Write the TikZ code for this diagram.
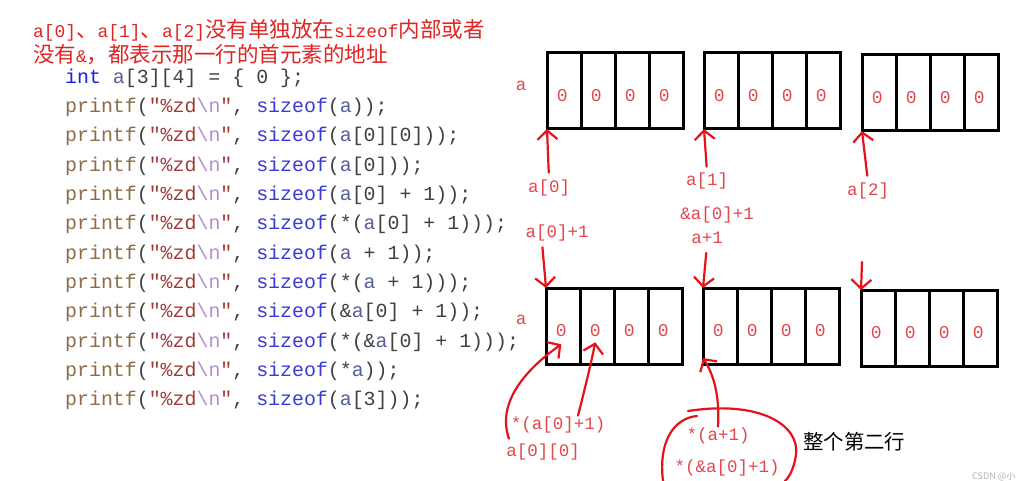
\documentclass[tikz,border=0pt]{standalone}
\usepackage{fontspec}
\setmonofont{Liberation Mono}
\newfontfamily\cjk{Noto Sans CJK SC}
\usetikzlibrary{arrows.meta}

\definecolor{titlered}{HTML}{E02424}
\definecolor{kwblue}{HTML}{1E1EE6}
\definecolor{szblue}{HTML}{3A3AD8}
\definecolor{fnbrown}{HTML}{8C6D46}
\definecolor{strred}{HTML}{A33A3A}
\definecolor{escviolet}{HTML}{B48CD8}
\definecolor{argcol}{HTML}{404040}
\definecolor{varcol}{HTML}{56609A}
\definecolor{lblred}{HTML}{E3474B}
\definecolor{penred}{HTML}{E5121A}

\newcommand\zh[1]{{\cjk\fontsize{21.5}{24}\selectfont #1}}
\newcommand\A{\textcolor{varcol}{a}}
\newcommand\pf[1]{\textcolor{fnbrown}{printf}(\textcolor{strred}{"\%zd}\textcolor{escviolet}{\textbackslash n}\textcolor{strred}{"}, \textcolor{szblue}{sizeof}#1}

\tikzset{
  code/.style={anchor=west, inner sep=0pt, text=argcol, font=\ttfamily\fontsize{19.9}{24}\selectfont},
  title/.style={anchor=west, inner sep=0pt, text=titlered, font=\ttfamily\fontsize{17.9}{22}\selectfont},
  rowbox/.style={draw, line width=3pt, minimum width=136pt, minimum height=76pt, inner sep=0pt, outer sep=0pt},
  cellline/.style={line width=3pt},
  zero/.style={inner sep=0pt, text=lblred, font=\ttfamily\fontsize{18}{20}\selectfont},
  lbl/.style={inner sep=1pt, text=lblred, font=\ttfamily\fontsize{17.5}{20}\selectfont},
  hand/.style={draw=penred, line width=2.2pt, line cap=round, -{Straight Barb[length=9pt,width=20pt,line width=2.2pt]}},
  ring/.style={draw=penred, line width=2.2pt, line cap=round}
}

\begin{document}
\begin{tikzpicture}[x=1pt, y=-1pt]
  \useasboundingbox (0,0) rectangle (1022,481);
  \clip (0,0) rectangle (1022,481);
  \fill[white] (0,0) rectangle (1022,481);

  % note above the code
  \node[title] (note1) at (33,30) {a[0]\zh{、}a[1]\zh{、}a[2]\zh{没有单独放在}sizeof\zh{内部或者}};
  \node[title] (note2) at (33,55) {\zh{没有}\&\zh{，都表示那一行的首元素的地址}};

  % code lines
  \node[code] (decl) at (65,78) {\textcolor{kwblue}{int} \A[3][4] = \{ 0 \};};
  \foreach \arg [count=\k] in {{(\A));}, {(\A[0][0]));}, {(\A[0]));}, {(\A[0] + 1));},
      {(*(\A[0] + 1)));}, {(\A{} + 1));}, {(*(\A{} + 1)));}, {(\&\A[0] + 1));},
      {(*(\&\A[0] + 1)));}, {(*\A));}, {(\A[3]));}}
    \node[code] (line\k) at (65,78+29.35*\k) {\pf{\arg}};

  % the array rows
  \foreach \name/\x/\y in {t1/547/53, t2/704/53, t3/862/55, b1/546/288, b2/703/288, b3/861/290} {
    \node[rowbox, anchor=north west] (\name) at (\x,\y) {};
    \foreach \i in {1,2,3}
      \draw[cellline] ([xshift=\i*34pt]\name.north west) -- ([xshift=\i*34pt]\name.south west);
    \foreach \i in {1,...,4}
      \node[zero] (\name z\i) at ([xshift=(\i-0.55)*34pt, yshift=-5pt]\name.west) {0};
  }
  \node[lbl] (atop) at (521,86) {a};
  \node[lbl] (abot) at (521,320) {a};

  % labels of the top row
  \node[lbl] (la0) at (549,188) {a[0]};
  \node[lbl] (la1) at (707,181) {a[1]};
  \node[lbl] (la2) at (868,191) {a[2]};
  \node[lbl] (lamp) at (717,215) {\&a[0]+1};
  \node[lbl] (lap1) at (707,238) {a+1};
  \node[lbl] (la0p) at (557,233) {a[0]+1};
  \coordinate (c3) at (862,262);

  \draw[hand, shorten <=6pt] (la0.north) -- (t1.south west);
  \draw[hand, shorten <=5pt] (la1.north) -- (t2.south west);
  \draw[hand, shorten <=6pt] (la2.north) -- (t3.south west);
  \draw[hand, shorten <=5pt] ([xshift=-15pt]la0p.south) -- (b1.north west);
  \draw[hand, shorten <=8pt] (lap1.south) -- (b2.north west);
  \draw[hand] (c3) -- (b3.north west);

  % labels of the bottom row
  \node[lbl] (l00) at (543,452) {a[0][0]};
  \node[lbl] (l01) at (558,425) {*(a[0]+1)};
  \node[lbl] (lrow) at (718,436) {*(a+1)};
  \node[lbl] (lrow2) at (727,468) {*(\&a[0]+1)};
  \node[anchor=west, inner sep=0pt, font=\cjk\fontsize{20.4}{24}\selectfont] (whole) at (803,442) {整个第二行};

  \draw[hand] ([xshift=-34pt, yshift=4pt]l00.north) .. controls (497,405) and (522,372) .. ([yshift=-7pt]b1z1.south);
  \draw[hand] ([xshift=20pt]l01.north) .. controls (584,392) and (590,368) .. ([yshift=-5pt]b1z2.south);
  \draw[hand] (lrow.north) .. controls (720,392) and (712,372) .. ([yshift=6pt]b2.south west);
  \draw[ring] (663,481) .. controls (658,440) and (675,418) .. (697,416);
  \draw[ring] (688,411) .. controls (760,400) and (800,425) .. (796,455) .. controls (794,468) and (790,476) .. (785,481);

  \node[anchor=west, inner sep=0pt, text=gray!60, font=\cjk\fontsize{9}{10}\selectfont] (mark) at (972,477) {CSDN @小};
\end{tikzpicture}
\end{document}
